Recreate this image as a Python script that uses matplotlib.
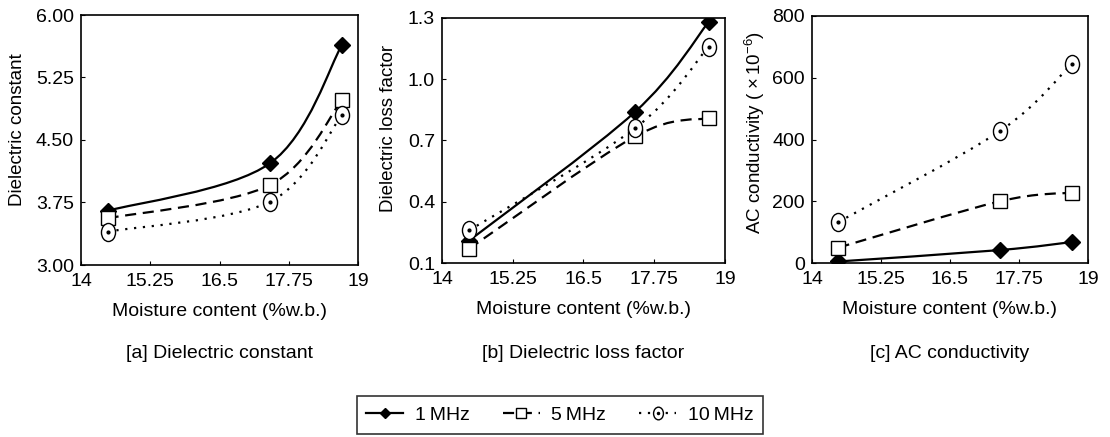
import numpy as np
import matplotlib
matplotlib.use("Agg")
from matplotlib import pyplot as plt
from matplotlib.path import Path
from matplotlib.patches import PathPatch
from matplotlib.lines import Line2D
from matplotlib.transforms import Affine2D

plt.rcParams['font.family'] = ['Liberation Sans', 'DejaVu Sans']
plt.rcParams['mathtext.fontset'] = 'custom'
plt.rcParams['mathtext.rm'] = 'Liberation Sans'
plt.rcParams['mathtext.it'] = 'Liberation Sans:italic'

# moisture content (%w.b.)
moisture = [14.48, 17.41, 18.71]

# [a] dielectric constant
eps_1mhz = [3.65, 4.22, 5.64]
eps_5mhz = [3.56, 3.96, 4.98]
eps_10mhz = [3.40, 3.76, 4.80]

# [b] dielectric loss factor
loss_1mhz = [0.21, 0.84, 1.28]
loss_5mhz = [0.17, 0.72, 0.81]
loss_10mhz = [0.26, 0.76, 1.16]

# [c] AC conductivity (x1e-6)
ac_1mhz = [5, 42, 68]
ac_5mhz = [50, 200, 228]
ac_10mhz = [133, 428, 646]

series_names = ['1\u2009MHz', '5\u2009MHz', '10\u2009MHz']
xticks = [14, 15.25, 16.5, 17.75, 19]
xtick_labels = ['14', '15.25', '16.5', '17.75', '19']

FS = 14

# tall ellipse marker with a dot for 10 MHz
oval = Path.unit_circle().transformed(Affine2D().scale(0.78, 1.0))


def smooth_path(x, y):
    # bezier curve through the points (catmull-rom tangents), like a smoothed line
    pts = np.column_stack([x, y]).astype(float)
    n = len(pts)
    verts = [pts[0]]
    codes = [Path.MOVETO]
    for i in range(n - 1):
        p_prev = pts[max(i - 1, 0)]
        p0 = pts[i]
        p1 = pts[i + 1]
        p_next = pts[min(i + 2, n - 1)]
        c1 = p0 + (p1 - p_prev) / 6.0
        c2 = p1 - (p_next - p0) / 6.0
        verts += [c1, c2, p1]
        codes += [Path.CURVE4] * 3
    return Path(verts, codes)


styles = [
    dict(ls='-', marker='D', ms=8, mfc='black'),
    dict(ls=(0, (5, 3)), marker='s', ms=10, mfc='white'),
    dict(ls=(0, (1, 3)), marker=oval, ms=13, mfc='white'),
]

W, H = 1110, 437


def draw_panel(ax, ys, ylim, yticks, ylabels, ylabel, caption, ylab_x, ylab_y):
    for y, st in zip(ys, styles):
        ax.add_patch(PathPatch(smooth_path(moisture, y), fill=False,
                               edgecolor='black', lw=1.6, ls=st['ls'], zorder=2))
        ax.plot(moisture, y, ls='none', marker=st['marker'], ms=st['ms'],
                mfc=st['mfc'], mec='black', mew=1.0, zorder=3)
        if st['marker'] is oval:
            ax.plot(moisture, y, ls='none', marker='o', ms=2, color='black', zorder=4)
    ax.set_xlim(14, 19)
    ax.set_ylim(*ylim)
    ax.set_xticks(xticks)
    ax.set_xticklabels(xtick_labels)
    ax.set_yticks(yticks)
    ax.set_yticklabels(ylabels)
    ax.tick_params(direction='in', length=3, labelsize=FS, pad=6)
    ax.tick_params(axis='y', pad=5)
    ax.set_xlabel('Moisture content (%w.b.)', fontsize=FS, labelpad=9)
    fig.text(ylab_x / W, 1 - ylab_y / H, ylabel, rotation=90, ha='center',
             va='center', fontsize=13.5)
    bb = ax.get_position()
    fig.text((bb.x0 + bb.x1) / 2, 1 - 353 / H, caption, ha='center',
             va='center', fontsize=FS)
    for sp in ax.spines.values():
        sp.set_linewidth(1.2)


fig = plt.figure(figsize=(11.1, 4.37), dpi=100)
ax_a = fig.add_axes([81 / W, 1 - 265 / H, 277 / W, 250 / H])
ax_b = fig.add_axes([442 / W, 1 - 263 / H, 283 / W, 245 / H])
ax_c = fig.add_axes([812 / W, 1 - 263 / H, 276 / W, 247 / H])

draw_panel(ax_a, [eps_1mhz, eps_5mhz, eps_10mhz], (3.0, 6.0),
           [3.0, 3.75, 4.5, 5.25, 6.0], ['3.00', '3.75', '4.50', '5.25', '6.00'],
           'Dielectric constant', '[a] Dielectric constant', 18, 130)
draw_panel(ax_b, [loss_1mhz, loss_5mhz, loss_10mhz], (0.1, 1.3),
           [0.1, 0.4, 0.7, 1.0, 1.3], ['0.1', '0.4', '0.7', '1.0', '1.3'],
           'Dielectric loss factor', '[b] Dielectric loss factor', 389, 128)
draw_panel(ax_c, [ac_1mhz, ac_5mhz, ac_10mhz], (0, 800),
           [0, 200, 400, 600, 800], ['0', '200', '400', '600', '800'],
           r'AC conductivity ( $\times\,10^{-6}$)', '[c] AC conductivity', 755, 132)

handles = []
for st in styles:
    h = Line2D([], [], color='black', lw=1.6, ls=st['ls'], marker=st['marker'],
               ms=st['ms'] * 0.7, mfc=st['mfc'], mec='black')
    if st['marker'] is oval:
        dot = Line2D([], [], ls='none', marker='o', ms=1.5, color='black')
        h = (h, dot)
    handles.append(h)

fig.legend(handles, series_names, loc='center', bbox_to_anchor=(560 / W, 1 - 415 / H),
           ncol=3, fontsize=FS, frameon=True, fancybox=False,
           edgecolor='black', handlelength=1.9, columnspacing=1.7,
           borderpad=0.5, handletextpad=0.6)
fig.legends[0].get_frame().set_linewidth(1.2)

fig.savefig('out.png', dpi=100)
